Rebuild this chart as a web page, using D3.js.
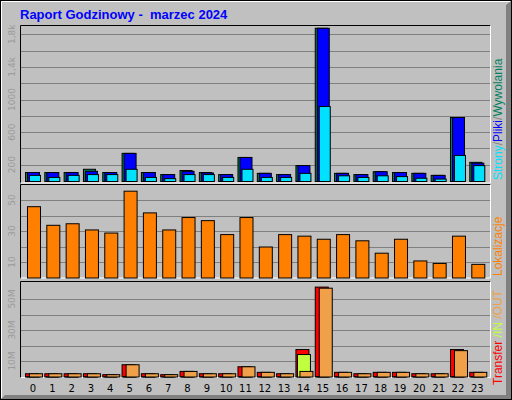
<!DOCTYPE html>
<html><head><meta charset="utf-8">
<script src="https://cdn.jsdelivr.net/npm/d3@7"></script>
<style>body{margin:0}svg{display:block}</style>
</head><body>
<svg id="chart" width="512" height="400"></svg>
<script>
var hours = d3.range(24);
var hits  = [110,110,110,150,110,345,110,85,135,110,85,295,100,85,195,1880,100,85,120,110,100,75,785,235];
var files = [110,110,110,125,110,345,110,85,125,105,85,295,100,85,195,1880,100,85,120,110,100,75,785,225];
var pages = [75,50,75,85,85,150,50,35,85,85,50,150,50,50,100,920,70,50,70,60,40,30,320,195];
var sites = [46,34,35,31,29,56,42,31,39,37,28,39,20,28,27,25,28,24,16,25,11,9.4,27,8.8];
var kbytes = [2.1,2.1,2.1,2.1,1.5,7.9,2.1,1.5,3.6,2.1,2.1,6.6,3,2.1,17.7,58,3,2.1,3,3,2.1,2.1,17.7,3];
var kin    = [0.2,0.2,0.2,0.2,0.1,0.3,0.2,0.1,0.2,0.2,0.2,0.3,0.2,0.2,14.5,0.3,0.2,0.2,0.2,0.2,0.2,0.2,0.3,0.2];
var kout   = [2.1,2.1,2.1,2.1,1.5,7.9,2.1,1.5,3.6,2.1,2.1,6.6,3,2.1,3.6,57.3,3,2.1,3,3,2.1,2.1,17,3];
var ticksTop = [200,600,1000,1400,1800], ticksTopLbl = ["200","600","1000","1,4k","1,8k"];
var ticksMid = [10,30,50];
var ticksBot = [10,30,50], ticksBotLbl = ["10M","30M","50M"];

var svg = d3.select("#chart");
var font = "'DejaVu Sans', sans-serif";
var lfont = "'Liberation Sans', Arial, sans-serif";
var x = d3.scaleLinear().domain([0,23]).range([25,469.3]);

// frame
svg.append("rect").attr("x",0.5).attr("y",0.5).attr("width",511).attr("height",399).attr("fill","#c0c0c0").attr("stroke","#000");
svg.append("path").attr("d","M1.5,398.5V1.5H510.5").attr("stroke","#fff").attr("fill","none");
svg.append("path").attr("d","M506,5L511,1V399H1L5,395H506Z").attr("fill","#808080");

svg.append("text").attr("x",20).attr("y",19).text("Raport Godzinowy -  marzec 2024")
  .attr("fill","#0000ff").style("font-family",lfont).style("font-weight","bold").style("font-size","13px").style("white-space","pre");

function panel(y0, y1) {
  svg.append("rect").attr("x",20).attr("y",y0).attr("width",471).attr("height",y1-y0).attr("fill","#c0c0c0");
  svg.append("path").attr("d","M20.5,"+(y1)+"V"+(y0+0.5)+"H490.5").attr("stroke","#000").attr("fill","none");
  svg.append("path").attr("d","M20.5,"+(y1-0.5)+"H490.5V"+(y0+0.5)).attr("stroke","#fff").attr("fill","none");
}
function grid(y, vals) {
  vals.forEach(function (v) {
    svg.append("line").attr("x1",21).attr("x2",490).attr("y1",Math.round(y(v))+0.5).attr("y2",Math.round(y(v))+0.5).attr("stroke","#808080");
  });
}
function ylabels(y, vals, lbls) {
  vals.forEach(function (v, i) {
    svg.append("text").attr("transform","translate(15,"+y(v)+") rotate(-90)")
      .attr("text-anchor","middle").text(lbls[i]).attr("fill","#9a9a9a")
      .style("font-family",font).style("font-size","9px");
  });
}
function bars(y, data, color, dx, w) {
  svg.append("g").selectAll("rect").data(data).enter().append("rect")
    .attr("x", function (d, i) { return x(i) + dx + 0.5; })
    .attr("y", function (d) { return y(d) + 0.5; })
    .attr("width", w).attr("height", function (d) { return Math.max(0, y(0) - y(d)); })
    .attr("fill", color).attr("stroke","#000");
}
function rlabel(yb, parts) {
  var t = svg.append("text").attr("transform","translate(502,"+yb+") rotate(-90)")
    .attr("text-anchor","start").style("font-family",lfont).style("font-size","12px").style("white-space","pre");
  parts.forEach(function (p) { t.append("tspan").text(p[0]).attr("fill",p[1]); });
}

// top panel
panel(25, 183.5);
var y1 = d3.scaleLinear().domain([0,200]).range([181,164.7]);
grid(y1, d3.range(200,2000,200));
ylabels(y1, ticksTop, ticksTopLbl);
bars(y1, hits, "#00805c", 0, 12);
bars(y1, files, "#0000ff", 2, 12);
bars(y1, pages, "#00e0ff", 4, 11);
rlabel(180, [["Strony","#00e0ff"],["/","#808080"],["Pliki","#0000ff"],["/","#808080"],["Wywolania","#00805c"]]);

// middle panel
panel(184, 278.5);
var y2 = d3.scaleLinear().domain([0,10]).range([277.5,262]);
grid(y2, [10,20,30,40,50]);
ylabels(y2, ticksMid, ticksMid.map(String));
bars(y2, sites, "#ff8000", 2, 13);
rlabel(276, [["Lokalizacje","#ff8000"]]);

// bottom panel
panel(281, 378);
var y3 = d3.scaleLinear().domain([0,10]).range([376.5,361]);
grid(y3, [10,20,30,40,50]);
ylabels(y3, ticksBot, ticksBotLbl);
bars(y3, kbytes, "#ff0000", 0, 13);
bars(y3, kin, "#c0ff40", 1.5, 13);
bars(y3, kout, "#f0a048", 4, 13);
rlabel(385, [["Transfer","#ff0000"],[" /IN","#c0ff40"],[" /OUT","#f0a048"]]);

// hour labels
svg.append("g").selectAll("text").data(hours).enter().append("text")
  .attr("x", function (d) { return x(d) + 8; }).attr("y", 392)
  .attr("text-anchor","middle").text(function (d) { return d; })
  .style("font-family",font).style("font-size","10px").attr("fill","#000");
</script>
</body></html>
